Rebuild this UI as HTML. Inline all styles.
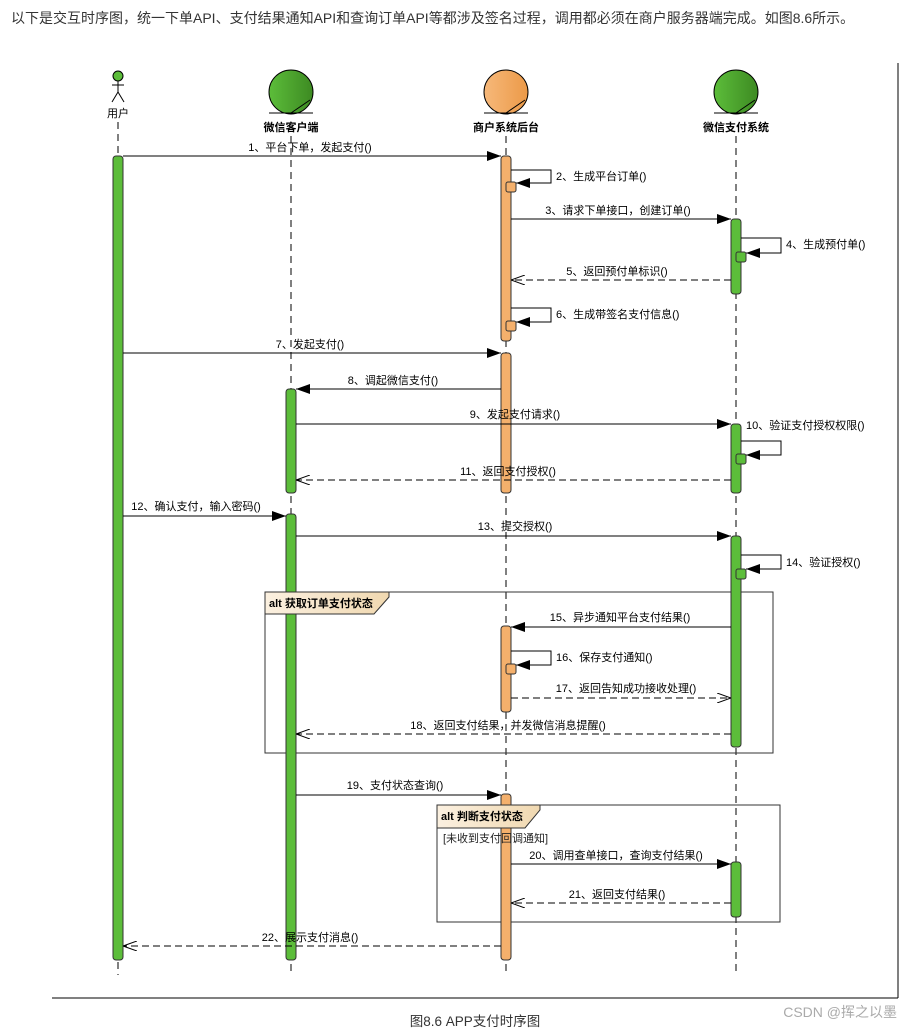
<!DOCTYPE html>
<html><head><meta charset="utf-8"><style>
html,body{margin:0;padding:0;background:#fff;width:914px;height:1030px;overflow:hidden}
svg text{font-family:"Liberation Sans","Noto Sans CJK SC",sans-serif}
</style></head><body>
<svg width="914" height="1030" viewBox="0 0 914 1030" xmlns="http://www.w3.org/2000/svg">
<defs>
<marker id="f" markerWidth="14" markerHeight="10" refX="14" refY="5" orient="auto" markerUnits="userSpaceOnUse"><path d="M0,0 L14,5 L0,10 z" fill="#000"/></marker>
<marker id="o" markerWidth="14" markerHeight="10" refX="14" refY="5" orient="auto" markerUnits="userSpaceOnUse"><path d="M0,0 L14,5 L0,10" fill="none" stroke="#000"/></marker>
<linearGradient id="g" x1="0" x2="1"><stop offset="0" stop-color="#5cbd3a"/><stop offset="1" stop-color="#3d8a22"/></linearGradient>
<linearGradient id="og" x1="0" x2="1"><stop offset="0" stop-color="#f6b87a"/><stop offset="1" stop-color="#ec9a48"/></linearGradient>
<linearGradient id="tg" x1="0" x2="1"><stop offset="0" stop-color="#fbf0e0"/><stop offset="1" stop-color="#f0d8b0"/></linearGradient>
</defs>
<text x="11" y="23" font-size="14" fill="#333">以下是交互时序图，统一下单API、支付结果通知API和查询订单API等都涉及签名过程，调用都必须在商户服务器端完成。如图8.6所示。</text>
<line x1="898" y1="63" x2="898" y2="998" stroke="#000"/>
<line x1="52" y1="998" x2="898" y2="998" stroke="#000"/>
<text x="475" y="1026" font-size="13.5" text-anchor="middle" fill="#333">图8.6 APP支付时序图</text>
<text x="897" y="1017" font-size="14" text-anchor="end" fill="#aaa">CSDN @挥之以墨</text>

<g stroke="#000" stroke-dasharray="7,5" stroke-width="1">
<line x1="118" y1="122" x2="118" y2="975"/>
<line x1="291" y1="136" x2="291" y2="975"/>
<line x1="506" y1="136" x2="506" y2="975"/>
<line x1="736" y1="136" x2="736" y2="975"/>
</g>
<g stroke="#000" fill="none">
<circle cx="118" cy="76" r="5" fill="#5cbd3a"/>
<line x1="118" y1="81" x2="118" y2="92"/><line x1="112" y1="85" x2="124" y2="85"/>
<line x1="118" y1="92" x2="112" y2="102"/><line x1="118" y1="92" x2="124" y2="102"/>
</g>
<text x="118" y="117" font-size="11" text-anchor="middle">用户</text>
<g stroke="#000">
<circle cx="291" cy="92" r="22" fill="url(#g)"/><line x1="269" y1="113" x2="313" y2="113"/><line x1="291" y1="113" x2="310" y2="100"/>
<circle cx="506" cy="92" r="22" fill="url(#og)"/><line x1="484" y1="113" x2="528" y2="113"/><line x1="506" y1="113" x2="525" y2="100"/>
<circle cx="736" cy="92" r="22" fill="url(#g)"/><line x1="714" y1="113" x2="758" y2="113"/><line x1="736" y1="113" x2="755" y2="100"/>
</g>
<g font-size="11" font-weight="bold" text-anchor="middle">
<text x="291" y="131">微信客户端</text><text x="506" y="131">商户系统后台</text><text x="736" y="131">微信支付系统</text>
</g>

<g stroke="#333" fill="none">
<rect x="265" y="592" width="508" height="161"/>
<rect x="437" y="805" width="343" height="117"/>
</g>

<g stroke="#333" stroke-width="1">
<rect x="113" y="156" width="10" height="804" rx="3" fill="#5cbd3a"/>
<rect x="286" y="389" width="10" height="104" rx="3" fill="#5cbd3a"/>
<rect x="286" y="514" width="10" height="446" rx="3" fill="#5cbd3a"/>
<rect x="501" y="156" width="10" height="185" rx="3" fill="#f4b06c"/>
<rect x="501" y="353" width="10" height="140" rx="3" fill="#f4b06c"/>
<rect x="501" y="626" width="10" height="86" rx="3" fill="#f4b06c"/>
<rect x="501" y="794" width="10" height="166" rx="3" fill="#f4b06c"/>
<rect x="731" y="219" width="10" height="75" rx="3" fill="#5cbd3a"/>
<rect x="731" y="424" width="10" height="69" rx="3" fill="#5cbd3a"/>
<rect x="731" y="536" width="10" height="211" rx="3" fill="#5cbd3a"/>
<rect x="731" y="862" width="10" height="55" rx="3" fill="#5cbd3a"/>
</g>
<path d="M265,592 H389 V597 L374,614 H265 z" fill="url(#tg)" stroke="#333"/>
<text x="269" y="607" font-size="11" font-weight="bold">alt 获取订单支付状态</text>
<path d="M437,805 H540 V810 L525,828 H437 z" fill="url(#tg)" stroke="#333"/>
<text x="441" y="820" font-size="11" font-weight="bold">alt 判断支付状态</text>
<text x="443" y="842" font-size="11" fill="#222">[未收到支付回调通知]</text>

<g stroke="#000" fill="none">
<line x1="123" y1="156" x2="501" y2="156" marker-end="url(#f)"/>
<polyline points="511,170 551,170 551,183 516,183" marker-end="url(#f)"/>
<line x1="511" y1="219" x2="731" y2="219" marker-end="url(#f)"/>
<polyline points="741,238 781,238 781,253 746,253" marker-end="url(#f)"/>
<line x1="731" y1="280" x2="511" y2="280" stroke-dasharray="7,4" marker-end="url(#o)"/>
<polyline points="511,308 551,308 551,322 516,322" marker-end="url(#f)"/>
<line x1="123" y1="353" x2="501" y2="353" marker-end="url(#f)"/>
<line x1="501" y1="389" x2="296" y2="389" marker-end="url(#f)"/>
<line x1="296" y1="424" x2="731" y2="424" marker-end="url(#f)"/>
<polyline points="741,441 781,441 781,455 746,455" marker-end="url(#f)"/>
<line x1="731" y1="480" x2="296" y2="480" stroke-dasharray="7,4" marker-end="url(#o)"/>
<line x1="123" y1="516" x2="286" y2="516" marker-end="url(#f)"/>
<line x1="296" y1="536" x2="731" y2="536" marker-end="url(#f)"/>
<polyline points="741,555 781,555 781,569 746,569" marker-end="url(#f)"/>
<line x1="731" y1="627" x2="511" y2="627" marker-end="url(#f)"/>
<polyline points="511,651 551,651 551,665 516,665" marker-end="url(#f)"/>
<line x1="511" y1="698" x2="731" y2="698" stroke-dasharray="7,4" marker-end="url(#o)"/>
<line x1="731" y1="734" x2="296" y2="734" stroke-dasharray="7,4" marker-end="url(#o)"/>
<line x1="296" y1="795" x2="501" y2="795" marker-end="url(#f)"/>
<line x1="511" y1="864" x2="731" y2="864" marker-end="url(#f)"/>
<line x1="731" y1="903" x2="511" y2="903" stroke-dasharray="7,4" marker-end="url(#o)"/>
<line x1="501" y1="946" x2="123" y2="946" stroke-dasharray="7,4" marker-end="url(#o)"/>
</g>
<g stroke="#333">
<rect x="506" y="182" width="10" height="10" rx="2" fill="#f4b06c"/>
<rect x="506" y="321" width="10" height="10" rx="2" fill="#f4b06c"/>
<rect x="506" y="664" width="10" height="10" rx="2" fill="#f4b06c"/>
<rect x="736" y="252" width="10" height="10" rx="2" fill="#5cbd3a"/>
<rect x="736" y="454" width="10" height="10" rx="2" fill="#5cbd3a"/>
<rect x="736" y="569" width="10" height="10" rx="2" fill="#5cbd3a"/>
</g>
<g font-size="11">
<text x="310" y="151" text-anchor="middle">1、平台下单，发起支付()</text>
<text x="556" y="180">2、生成平台订单()</text>
<text x="618" y="214" text-anchor="middle">3、请求下单接口，创建订单()</text>
<text x="786" y="248">4、生成预付单()</text>
<text x="617" y="275" text-anchor="middle">5、返回预付单标识()</text>
<text x="556" y="318">6、生成带签名支付信息()</text>
<text x="310" y="348" text-anchor="middle">7、发起支付()</text>
<text x="393" y="384" text-anchor="middle">8、调起微信支付()</text>
<text x="515" y="418" text-anchor="middle">9、发起支付请求()</text>
<text x="746" y="429">10、验证支付授权权限()</text>
<text x="508" y="475" text-anchor="middle">11、返回支付授权()</text>
<text x="196" y="510" text-anchor="middle">12、确认支付，输入密码()</text>
<text x="515" y="530" text-anchor="middle">13、提交授权()</text>
<text x="786" y="566">14、验证授权()</text>
<text x="620" y="621" text-anchor="middle">15、异步通知平台支付结果()</text>
<text x="556" y="661">16、保存支付通知()</text>
<text x="626" y="692" text-anchor="middle">17、返回告知成功接收处理()</text>
<text x="508" y="729" text-anchor="middle">18、返回支付结果，并发微信消息提醒()</text>
<text x="395" y="789" text-anchor="middle">19、支付状态查询()</text>
<text x="616" y="859" text-anchor="middle">20、调用查单接口，查询支付结果()</text>
<text x="617" y="898" text-anchor="middle">21、返回支付结果()</text>
<text x="310" y="941" text-anchor="middle">22、展示支付消息()</text>
</g>
</svg>
</body></html>
